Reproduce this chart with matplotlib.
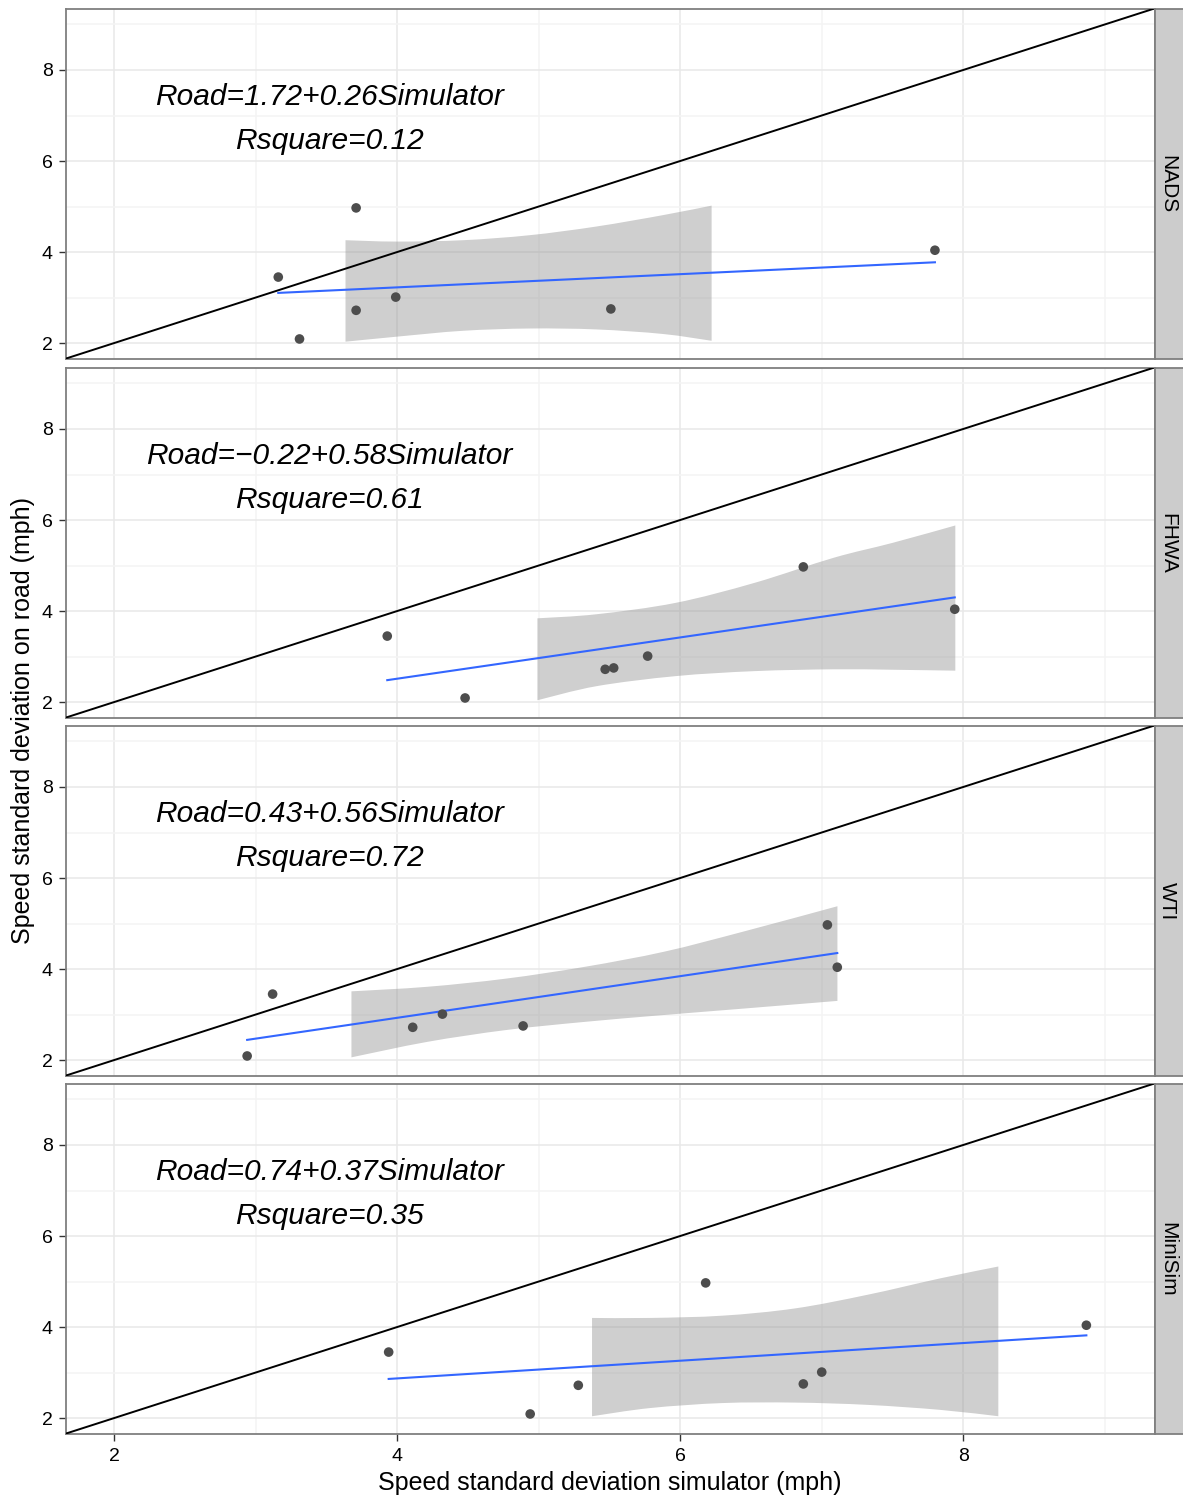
import numpy as np
import matplotlib
matplotlib.use("Agg")
import matplotlib.pyplot as plt
from matplotlib.path import Path
from matplotlib.patches import PathPatch

plt.rcParams["font.family"] = ["Liberation Sans", "DejaVu Sans"]

# ---------------- data ----------------
panels = ["NADS", "FHWA", "WTI", "MiniSim"]
road_sd = [3.45, 4.97, 2.09, 2.72, 3.01, 2.75, 4.04]
sim_nads = [3.16, 3.71, 3.31, 3.71, 3.99, 5.51, 7.80]
sim_fhwa = [3.93, 6.87, 4.48, 5.47, 5.77, 5.53, 7.94]
sim_wti = [3.12, 7.04, 2.94, 4.11, 4.32, 4.89, 7.11]
sim_minisim = [3.94, 6.18, 4.94, 5.28, 7.00, 6.87, 8.87]

eq_labels = ["Road=1.72+0.26Simulator", "Road=\u22120.22+0.58Simulator",
             "Road=0.43+0.56Simulator", "Road=0.74+0.37Simulator"]
r2_labels = ["Rsquare=0.12", "Rsquare=0.61", "Rsquare=0.72", "Rsquare=0.35"]

# grey confidence ribbons as drawn in the figure
band_x_nads = [3.635, 3.995, 4.465, 4.936, 5.406, 5.877, 6.222]
band_lo_nads = [2.03, 2.14, 2.27, 2.32, 2.30, 2.20, 2.05]
band_hi_nads = [4.26, 4.23, 4.26, 4.37, 4.56, 4.81, 5.02]

band_x_fhwa = [4.991, 5.410, 5.968, 6.526, 7.084, 7.503, 7.944]
band_lo_fhwa = [2.04, 2.35, 2.57, 2.68, 2.72, 2.71, 2.69]
band_hi_fhwa = [3.84, 3.93, 4.18, 4.62, 5.17, 5.50, 5.88]

band_x_wti = [3.677, 4.213, 4.770, 5.328, 5.885, 6.443, 7.111]
band_lo_wti = [2.06, 2.40, 2.66, 2.84, 2.99, 3.13, 3.30]
band_hi_wti = [3.51, 3.61, 3.79, 4.05, 4.38, 4.82, 5.38]

band_x_mini = [5.377, 5.787, 6.300, 6.813, 7.325, 7.838, 8.248]
band_lo_mini = [2.04, 2.22, 2.33, 2.34, 2.29, 2.18, 2.04]
band_hi_mini = [4.20, 4.20, 4.25, 4.41, 4.71, 5.07, 5.33]

x_ticks = [2, 4, 6, 8]
y_ticks = [2, 4, 6, 8]
x_minor = [3, 5, 7, 9]
y_minor = [3, 5, 7, 9]

sims = [sim_nads, sim_fhwa, sim_wti, sim_minisim]
bands = [(band_x_nads, band_lo_nads, band_hi_nads),
         (band_x_fhwa, band_lo_fhwa, band_hi_fhwa),
         (band_x_wti, band_lo_wti, band_hi_wti),
         (band_x_mini, band_lo_mini, band_hi_mini)]


def smooth_edge(xs, ys):
    """Catmull-Rom -> cubic Bezier segments through the read points."""
    pts = np.column_stack([xs, ys])
    n = len(pts)
    verts = [pts[0]]
    codes = []
    for k in range(n - 1):
        p0 = pts[k - 1] if k > 0 else pts[k]
        p1, p2 = pts[k], pts[k + 1]
        p3 = pts[k + 2] if k + 2 < n else pts[k + 1]
        c1 = p1 + (p2 - p0) / 6.0
        c2 = p2 - (p3 - p1) / 6.0
        verts += [c1, c2, p2]
        codes += [Path.CURVE4] * 3
    return verts, codes


def band_patch(bx, blo, bhi, **kw):
    v_lo, c_lo = smooth_edge(bx, blo)
    v_hi, c_hi = smooth_edge(bx[::-1], bhi[::-1])
    verts = v_lo + v_hi + [v_lo[0]]
    codes = [Path.MOVETO] + c_lo + [Path.LINETO] + c_hi + [Path.CLOSEPOLY]
    return PathPatch(Path(np.array(verts), codes), **kw)


# ---------------- figure ----------------
W, H = 1183, 1499
fig = plt.figure(figsize=(W / 100, H / 100), dpi=100)

left_px, right_px = 66, 1155
panel_tops = [9, 368, 726, 1084]
panel_h = 350
xlim = (1.66, 9.355)
ylim = (1.65, 9.34)
border_col = "#7f7f7f"

for i, name in enumerate(panels):
    top = panel_tops[i]
    bottom = top + panel_h
    ax = fig.add_axes([left_px / W, 1 - bottom / H, (right_px - left_px) / W, panel_h / H])
    ax.set_xlim(*xlim)
    ax.set_ylim(*ylim)
    ax.set_xticks(x_ticks)
    ax.set_yticks(y_ticks)
    ax.set_xticks(x_minor, minor=True)
    ax.set_yticks(y_minor, minor=True)
    ax.grid(which="major", color="#e8e8e8", lw=1.1, zorder=0)
    ax.grid(which="minor", color="#f4f4f4", lw=1.1, zorder=0)
    ax.set_axisbelow(True)
    for s in ax.spines.values():
        s.set_color(border_col)
        s.set_linewidth(1.3)
    ax.tick_params(axis="y", which="major", length=5, width=1.0, color="#333333",
                   labelsize=14, labelcolor="black", pad=4.5)
    ax.tick_params(which="minor", length=0)
    if i < 3:
        ax.tick_params(axis="x", which="major", length=0, labelbottom=False)
    else:
        ax.tick_params(axis="x", which="major", length=5, width=1.0, color="#333333",
                       labelsize=14, labelcolor="black", pad=5)

    bx, blo, bhi = (np.array(a) for a in bands[i])
    ax.add_patch(band_patch(bx, blo, bhi, facecolor="#999999", alpha=0.47,
                            lw=0, zorder=2))

    ax.axline((2, 2), slope=1, color="black", lw=1.4, zorder=3)

    xs = np.array(sims[i])
    ys = np.array(road_sd)
    slope, intercept = np.polyfit(xs, ys, 1)
    xl = np.array([xs.min(), xs.max()])
    ax.plot(xl, intercept + slope * xl, color="#3366FF", lw=1.5, zorder=4)

    ax.scatter(xs, ys, s=48, color="#4d4d4d", edgecolors="none", zorder=5)

    ax.text(3.52, 7.41, eq_labels[i], style="italic", fontsize=21.5,
            ha="center", va="center", zorder=6)
    ax.text(3.52, 6.45, r2_labels[i], style="italic", fontsize=21.5,
            ha="center", va="center", zorder=6)

    # strip on the right
    sax = fig.add_axes([right_px / W, 1 - bottom / H, (W - right_px + 2) / W, panel_h / H])
    sax.set_xticks([])
    sax.set_yticks([])
    sax.set_facecolor("#cccccc")
    for s in sax.spines.values():
        s.set_color(border_col)
        s.set_linewidth(1.3)
    sax.text(0.42, 0.5, name, rotation=270, fontsize=15, ha="center", va="center",
             transform=sax.transAxes)

fig.text(610 / W, 1 - 1483 / H, "Speed standard deviation simulator (mph)",
         fontsize=18, ha="center", va="center")
fig.text(23 / W, 1 - 721 / H, "Speed standard deviation on road (mph)",
         fontsize=18, ha="center", va="center", rotation=90)

fig.savefig("out.png", dpi=100)
